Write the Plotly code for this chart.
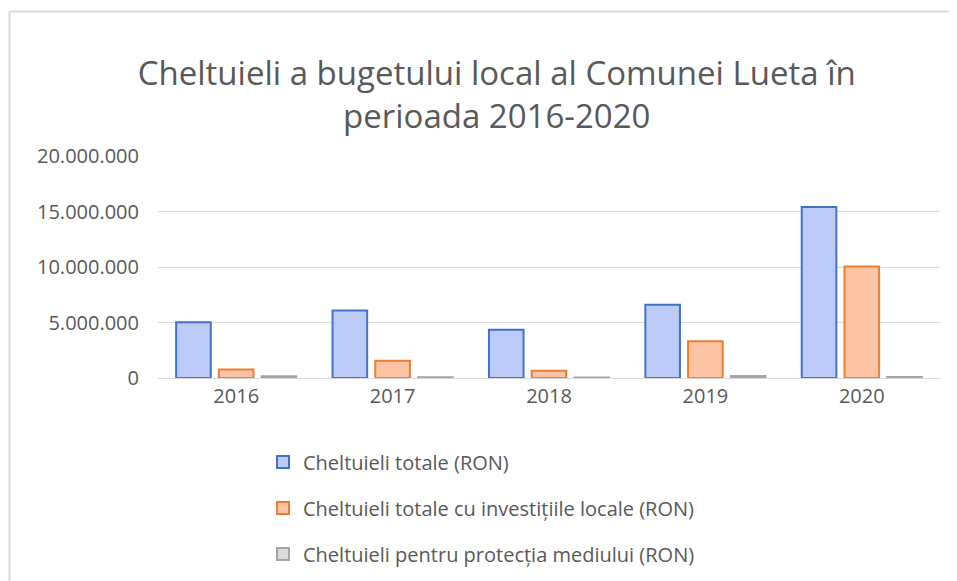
import plotly.graph_objects as go

years = ["2016", "2017", "2018", "2019", "2020"]
cheltuieli_totale = [5020000, 6090000, 4350000, 6600000, 15400000]
cheltuieli_investitii = [760000, 1560000, 660000, 3300000, 10050000]
cheltuieli_mediu = [150000, 60000, 50000, 180000, 100000]
series_names = [
    "Cheltuieli totale (RON)",
    "Cheltuieli totale cu investițiile locale (RON)",
    "Cheltuieli pentru protecția mediului (RON)",
]
y_tickvals = [0, 5000000, 10000000, 15000000, 20000000]

FONT = "Open Sans, Liberation Sans, sans-serif"
fills = ["#bccbf8", "#fdc4a4", "#dcdcdc"]
lines = ["#4472c4", "#ed7d31", "#a5a5a5"]

W, H = 949, 573
L, R, T, B = 150, 17, 148, 203
PW, PH = W - L - R, H - T - B
BOTTOM = H - B  # plot bottom in figure px

fig = go.Figure()
for i, (name, vals) in enumerate(zip(series_names, [cheltuieli_totale, cheltuieli_investitii, cheltuieli_mediu])):
    fig.add_trace(go.Bar(
        x=years, y=vals, name=name, legendgroup=f"g{i}",
        marker=dict(color=fills[i], line=dict(color=lines[i], width=2)),
    ))

bx = (1.5 - L) / PW
by = (BOTTOM - 3.5) / PH
fig.update_layout(
    width=W, height=H,
    paper_bgcolor="white", plot_bgcolor="white",
    margin=dict(l=L, r=R, t=T, b=B, autoexpand=False),
    separators=",.",
    barmode="group", bargap=0.18, bargroupgap=0.19,
    title=dict(
        text="Cheltuieli a bugetului local al Comunei Lueta în<br>perioada 2016-2020",
        x=0.515, xanchor="center", xref="container",
        y=1 - 77 / H, yanchor="middle", yref="container",
        font=dict(family=FONT, size=33, color="#595959"),
    ),
    font=dict(family=FONT, size=20, color="#595959"),
    xaxis=dict(showgrid=False, showline=True, linecolor="#d9d9d9", linewidth=1,
               ticks="", tickfont=dict(size=20, color="#595959")),
    yaxis=dict(range=[0, 20000000], tickvals=y_tickvals, tickformat=",d",
               showgrid=True, gridcolor="#d9d9d9", gridwidth=1,
               zeroline=False, showline=False, ticks="", ticklen=0,
               ticklabelstandoff=18,
               tickfont=dict(size=20, color="#595959")),
    legend=dict(orientation="v", x=(255 - L) / PW, xanchor="left",
                y=-(434.5 - BOTTOM) / PH, yanchor="top",
                font=dict(size=20, color="#595959"), tracegroupgap=17,
                bgcolor="rgba(0,0,0,0)", itemwidth=30),
    showlegend=True,
    shapes=[
        dict(type="line", xref="paper", yref="paper",
             x0=bx, x1=bx, y0=-(H - BOTTOM) / PH - 0.1, y1=by,
             line=dict(color="#d9d9d9", width=2), layer="below"),
        dict(type="line", xref="paper", yref="paper",
             x0=bx, x1=(W - L) / PW + 0.05, y0=by, y1=by,
             line=dict(color="#d9d9d9", width=2), layer="below"),
    ],
)

fig.write_html("out.html", config={"displayModeBar": False})
